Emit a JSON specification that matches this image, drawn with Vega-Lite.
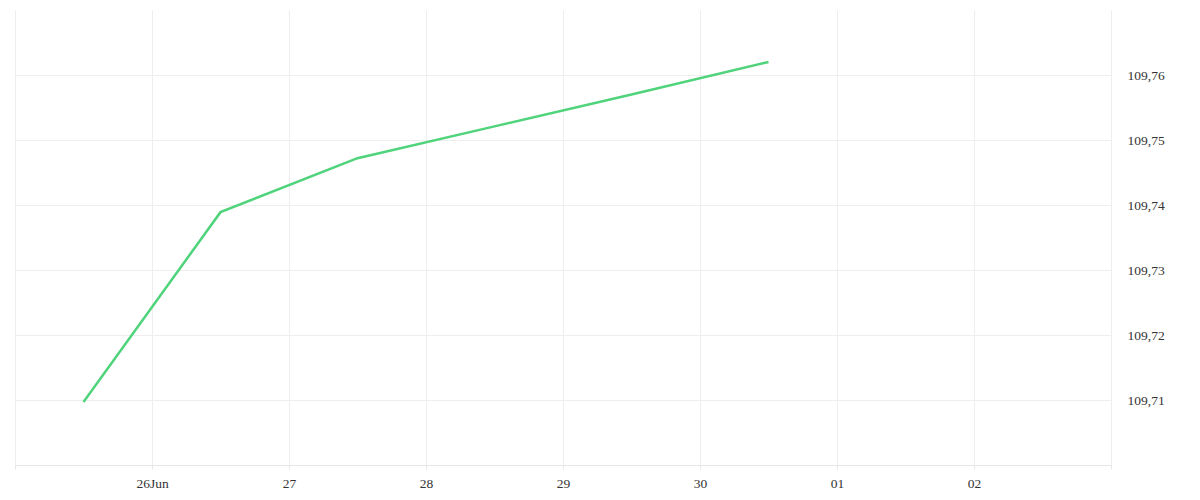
{
  "$schema": "https://vega.github.io/schema/vega-lite/v6.json",
  "autosize": "none",
  "width": 1096,
  "height": 455,
  "padding": {"left": 15, "top": 10, "right": 89, "bottom": 35},
  "background": "white",
  "config": {
    "view": {"stroke": null},
    "font": "Liberation Serif",
    "axis": {
      "labelFont": "Liberation Serif",
      "labelFontSize": 13.5,
      "labelColor": "#333333",
      "gridColor": "#eeeeee",
      "domainColor": "#e6e6e6",
      "tickColor": "#e6e6e6"
    }
  },
  "data": {
    "values": [
      {"time": "2023-06-25T12:00:00Z", "price": 109.7097},
      {"time": "2023-06-26T12:00:00Z", "price": 109.7389},
      {"time": "2023-06-27T12:00:00Z", "price": 109.7472},
      {"time": "2023-06-28T12:00:00Z", "price": 109.7521},
      {"time": "2023-06-29T12:00:00Z", "price": 109.7570},
      {"time": "2023-06-30T12:00:00Z", "price": 109.7620}
    ]
  },
  "mark": {"type": "line", "color": "#4fd37b", "strokeWidth": 2.5},
  "encoding": {
    "x": {
      "field": "time",
      "type": "temporal",
      "scale": {"type": "utc", "domain": ["2023-06-25T00:00:00Z", "2023-07-03T00:00:00Z"], "nice": false},
      "axis": {
        "title": null,
        "tickCount": {"interval": "day", "step": 1},
        "tickSize": 4,
        "labelPadding": 7,
        "labelOverlap": false,
        "labelExpr": "utcdate(datum.value) == 26 ? '26Jun' : (utcdate(datum.value) == 25 || utcdate(datum.value) == 3 ? '' : utcFormat(datum.value, '%d'))"
      }
    },
    "y": {
      "field": "price",
      "type": "quantitative",
      "scale": {"domain": [109.70, 109.77], "nice": false, "zero": false},
      "axis": {
        "title": null,
        "orient": "right",
        "values": [109.70, 109.71, 109.72, 109.73, 109.74, 109.75, 109.76],
        "domain": false,
        "ticks": false,
        "labelPadding": 16,
        "labelExpr": "datum.value < 109.705 ? '' : replace(format(datum.value, '.2f'), '.', ',')"
      }
    }
  }
}
